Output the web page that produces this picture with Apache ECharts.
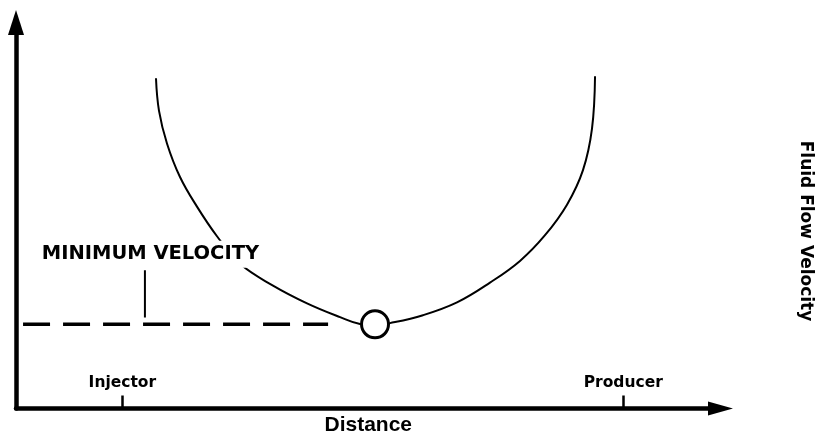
<!DOCTYPE html>
<html><head><meta charset="utf-8">
<script src="https://cdn.jsdelivr.net/npm/echarts@6/dist/echarts.min.js"></script>
<style>html,body{margin:0;padding:0;background:#fff}#c{width:820px;height:441px}</style>
</head><body><div id="c"></div>
<script>
// U-shaped fluid flow velocity curve (distance 0-100, velocity 0-100, arbitrary units)
const curveX = [19.87, 20.30, 21.43, 23.28, 25.69, 28.53, 31.80, 36.48, 41.31, 46.00, 48.83, 50.96, 53.09, 57.77, 62.60, 67.28, 71.54, 75.09, 78.21, 80.48, 81.76, 82.19];
const curveY = [85.55, 77.11, 68.67, 59.97, 52.30, 44.63, 37.47, 31.84, 27.24, 23.66, 21.87, 21.60, 22.12, 24.17, 27.49, 32.61, 38.24, 44.89, 52.81, 61.76, 72.51, 86.06];
const minX = [50.96];
const minY = [21.8];
const dashX = [1, 44.3];
const dashY = [21.8, 21.8];
const pointerX = [18.3, 18.3];
const pointerY = [23.6, 35.8];
const tickValues = [15.1, 86.2];
const tickLabels = ['Injector', 'Producer'];
const annotationText = 'MINIMUM VELOCITY';
const xTitle = 'Distance';
const yTitle = 'Fluid Flow Velocity';

const zip = (xs, ys) => xs.map((x, i) => [x, ys[i]]);
const pointerData = zip(pointerX, pointerY).map((p, i) => i === pointerX.length - 1 ? {
  value: p,
  label: {
    show: true, position: 'top', distance: 2, offset: [5.5, 0],
    formatter: annotationText,
    fontFamily: 'DejaVu Sans', fontWeight: 'bold', fontSize: 19.5, lineHeight: 19,
    color: '#000', backgroundColor: '#fff', padding: [4, 4, 4, 4]
  }
} : { value: p });

const chart = echarts.init(document.getElementById('c'), null, { renderer: 'canvas' });
chart.setOption({
  backgroundColor: '#fff',
  animation: false,
  grid: { left: 16, right: 99.5, top: 22.5, bottom: 27.5, containLabel: false },
  xAxis: {
    type: 'value', min: 0, max: 100,
    axisLine: { show: true, symbol: ['none', 'triangle'], symbolSize: [14, 25], lineStyle: { color: '#000', width: 4.5 } },
    axisTick: { show: true, inside: true, length: 13, customValues: tickValues, lineStyle: { color: '#000', width: 2.5 } },
    axisLabel: {
      show: true, inside: true, margin: 18, customValues: tickValues,
      formatter: v => { let b = 0; tickValues.forEach((t, i) => { if (Math.abs(t - v) < Math.abs(tickValues[b] - v)) b = i; }); return tickLabels[b]; },
      color: '#000', fontFamily: 'DejaVu Sans', fontWeight: 'bold', fontSize: 15.5
    },
    splitLine: { show: false },
    name: xTitle, nameLocation: 'middle', nameGap: 6.5,
    nameTextStyle: { color: '#000', fontFamily: 'Liberation Sans', fontWeight: 'bold', fontSize: 21 }
  },
  yAxis: {
    type: 'value', min: 0, max: 100,
    axisLine: { show: true, symbol: ['none', 'triangle'], symbolSize: [16, 25], lineStyle: { color: '#000', width: 4.5 } },
    axisTick: { show: false }, axisLabel: { show: false }, splitLine: { show: false }
  },
  graphic: [{
    type: 'text', x: 805, y: 231, rotation: -Math.PI / 2,
    style: { text: yTitle, fill: '#000', font: 'bold 17px "DejaVu Sans"', align: 'center', verticalAlign: 'middle' }
  }],
  series: [
    { type: 'line', z: 1, data: zip(curveX, curveY), smooth: 0.4, showSymbol: false, symbol: 'none', lineStyle: { color: '#000', width: 2 } },
    { type: 'line', z: 2, data: zip(dashX, dashY), showSymbol: false, symbol: 'none', lineStyle: { color: '#000', width: 3.5, type: [27, 13] } },
    { type: 'line', z: 3, data: pointerData, symbol: 'circle', symbolSize: 1, showSymbol: true, itemStyle: { color: 'rgba(0,0,0,0)', borderWidth: 0 }, lineStyle: { color: '#000', width: 2 } },
    { type: 'scatter', z: 5, data: zip(minX, minY), symbol: 'circle', symbolSize: 27, itemStyle: { color: '#fff', borderColor: '#000', borderWidth: 3, opacity: 1 } }
  ]
});
</script></body></html>
